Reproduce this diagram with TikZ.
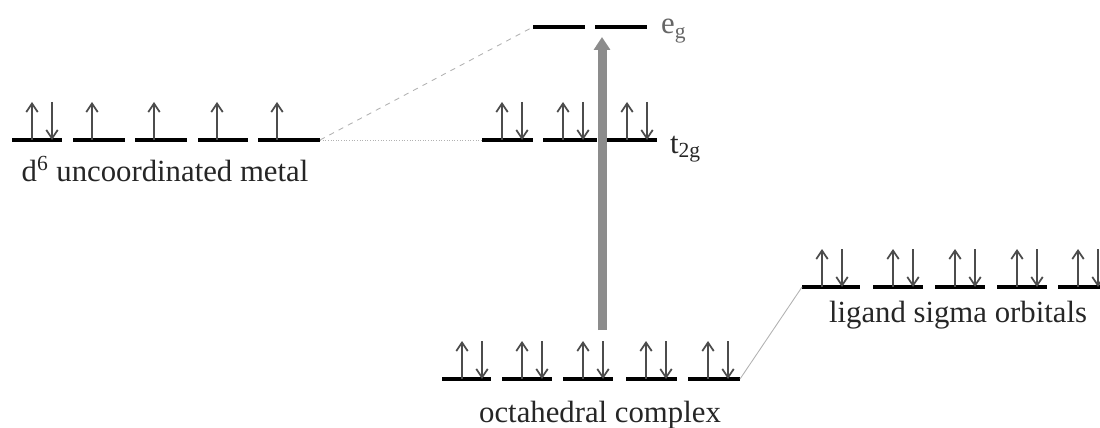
\documentclass[tikz,border=0pt]{standalone}
\usepackage{fontspec}
\setmainfont{Liberation Serif}
\usetikzlibrary{arrows.meta}

\tikzset{
  lvl/.style={line width=2.6pt,black},
  spin/.style={line width=1pt,black!70,->},
  corr/.style={gray!60,line width=0.5pt},
  lbl/.style={font=\fontsize{17.5}{20}\selectfont,text=black!85,inner sep=1pt},
}
% one orbital level, named ends #1-l and #1-r
\newcommand{\orbital}[4]{\draw[lvl] (#2,#4) coordinate (#1-l) -- (#3,#4) coordinate (#1-r);}
\newcommand{\spinup}[2]{\draw[spin] (#1,#2) -- ++(0,-38);}
\newcommand{\spindn}[2]{\draw[spin] (#1,#2-38) -- (#1,#2);}
\newcommand{\paired}[2]{\spinup{#1+20}{#2}\spindn{#1+40}{#2}}

\begin{document}
\begin{tikzpicture}[x=0.2mm,y=-0.2mm,>={Straight Barb[length=1.7mm,width=2.3mm]}]
  \useasboundingbox (0,0) rectangle (1100,428);
  % d6 metal
  \foreach \a/\b [count=\i] in {12/62,73/125,135/187,198/248,258/320}
    {\orbital{m\i}{\a}{\b}{140}}
  \paired{12}{140}
  \foreach \a in {73,135,198,258} {\spinup{\a+19}{140}}
  \node[lbl] (metal) at (165,169) {d\textsuperscript{6} uncoordinated metal};
  % complex: eg and t2g
  \orbital{eg1}{533}{585}{27}
  \orbital{eg2}{595}{647}{27}
  \node[lbl,anchor=west,text=black!60] (eg) at (659,31) {e\textsubscript{g}};
  \foreach \a/\b [count=\i] in {482/533,543/597,607/657}
    {\orbital{t\i}{\a}{\b}{140}\paired{\a}{140}}
  \node[lbl,anchor=west] (t2g) at (668,149) {t\textsubscript{2g}};
  % octahedral complex, bonding set
  \foreach \a/\b [count=\i] in {442/491,502/552,563/613,626/677,688/740}
    {\orbital{o\i}{\a}{\b}{379}\paired{\a}{379}}
  \node[lbl] (octa) at (600,415) {octahedral complex};
  % ligand sigma orbitals
  \foreach \a/\b [count=\i] in {802/860,873/923,935/985,997/1047,1058/1112}
    {\orbital{lg\i}{\a}{\b}{287}\paired{\a}{287}}
  \node[lbl] (lig) at (958,315) {ligand sigma orbitals};
  % correlation lines
  \draw[corr,dashed] (m5-r) -- (eg1-l);
  \draw[corr,densely dotted] (m5-r) -- (t1-l);
  \draw[corr] (o5-r) -- (lg1-l);
  % splitting arrow
  \coordinate (gap-b) at (602,330);
  \coordinate (gap-t) at (602,37);
  \draw[line width=1.8mm,black!45,-{Triangle[length=2.6mm,width=3.2mm]}] (gap-b) -- (gap-t);
\end{tikzpicture}
\end{document}
